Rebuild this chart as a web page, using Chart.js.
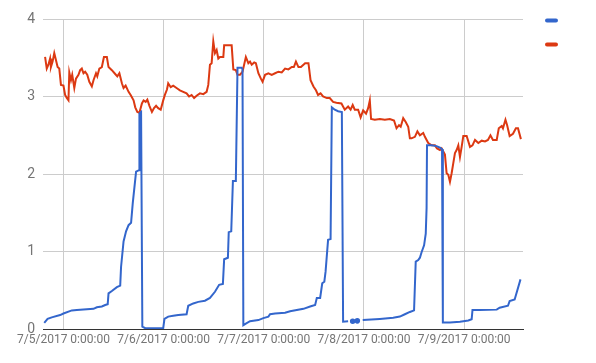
<!DOCTYPE html>
<html>
<head>
<meta charset="utf-8">
<script src="https://cdn.jsdelivr.net/npm/chart.js@4/dist/chart.umd.min.js"></script>
<style>
  html, body { margin: 0; padding: 0; background: #fff; }
  canvas { display: block; }
</style>
</head>
<body>
<canvas id="chart" width="596" height="363"></canvas>
<script>
/* global Chart */
// x values are hours since 7/5/2017 0:00:00
const dayTicks = [0, 24, 48, 72, 96];
const dayLabels = ['7/5/2017 0:00:00', '7/6/2017 0:00:00', '7/7/2017 0:00:00', '7/8/2017 0:00:00', '7/9/2017 0:00:00'];
const yTicks = [0, 1, 2, 3, 4];

const blueHours = [-4.6, -3.8, -2.8, -0.8, 0.0, 2.0, 3.2, 7.2, 8.0, 9.2, 10.0, 10.6, 10.8, 11.6, 12.8, 13.6, 13.8, 14.4, 15.0, 15.6,
  16.2, 16.6, 17.4, 18.1, 18.2, 18.6, 18.9, 19.6, 23.9, 24.2, 25.1, 26.3, 27.5, 29.5, 29.9, 31.1, 32.3, 33.9, 35.1, 36.3,
  37.3, 38.2, 38.5, 39.4, 39.6, 40.2, 40.6, 41.3, 41.7, 42.7, 42.9, 43.1, 43.7, 44.7, 46.7, 47.9, 49.1, 49.5, 50.7, 53.1,
  54.3, 57.5, 59.1, 60.3, 60.7, 61.5, 62.0, 62.5, 62.8, 63.4, 64.0, 64.3, 65.0, 65.8, 66.7, 67.0, 68.2, 68.7, 69.3, 69.8,
  70.4, 71.0, 71.7, 75.8, 79.0, 80.6, 81.8, 83.0, 84.0, 84.4, 85.0, 85.4, 85.8, 86.4, 86.8, 87.0, 87.1, 88.2, 89.4, 90.2,
  90.7, 90.9, 92.6, 95.0, 97.0, 97.8, 98.0, 99.8, 103.8, 104.5, 106.5, 106.9, 108.1, 109.5];
const blueValues = [0.08, 0.13, 0.15, 0.18, 0.20, 0.24, 0.245, 0.26, 0.28, 0.29, 0.31, 0.32, 0.46, 0.49, 0.54, 0.56, 0.80, 1.13, 1.26, 1.34,
  1.37, 1.62, 2.03, 2.05, 2.78, 2.80, 0.03, 0.01, 0.01, 0.13, 0.16, 0.17, 0.18, 0.19, 0.30, 0.33, 0.35, 0.365, 0.40, 0.48,
  0.57, 0.58, 0.90, 0.92, 1.25, 1.26, 1.91, 1.91, 3.37, 3.37, 3.35, 0.05, 0.07, 0.10, 0.115, 0.14, 0.16, 0.19, 0.20, 0.21,
  0.23, 0.26, 0.29, 0.31, 0.40, 0.40, 0.59, 0.61, 0.74, 1.15, 1.16, 2.86, 2.83, 2.81, 2.80, 0.095, 0.10, null, 0.10, null,
  0.105, null, 0.115, 0.13, 0.145, 0.16, 0.19, 0.22, 0.24, 0.87, 0.89, 0.92, 0.99, 1.08, 1.23, 1.56, 2.37, 2.37, 2.36, 2.34,
  2.32, 0.085, 0.085, 0.095, 0.11, 0.125, 0.245, 0.245, 0.25, 0.275, 0.30, 0.36, 0.38, 0.64];

const redHours = [-4.4, -4.0, -3.6, -3.2, -3.0, -2.6, -2.2, -1.8, -1.4, -1.0, -0.6, 0.0, 0.4, 0.8, 1.2, 1.4, 1.8, 2.1, 2.6, 3.0,
  3.6, 4.0, 4.4, 4.8, 5.2, 5.7, 6.2, 6.8, 7.2, 7.8, 8.1, 8.6, 9.2, 9.7, 10.4, 10.8, 11.6, 12.4, 12.9, 13.4,
  14.0, 14.4, 14.9, 15.6, 16.1, 16.8, 17.2, 17.7, 18.2, 18.8, 19.2, 19.7, 20.1, 20.6, 21.2, 21.7, 22.2, 22.7, 23.3, 23.9,
  24.3, 24.8, 25.1, 25.7, 26.3, 27.1, 27.9, 28.7, 29.5, 30.1, 30.7, 31.3, 31.9, 32.7, 33.5, 34.3, 34.7, 35.1, 35.5, 35.9,
  36.3, 36.7, 37.1, 37.5, 38.3, 38.5, 40.3, 40.7, 41.3, 41.7, 42.3, 42.9, 43.7, 44.3, 44.7, 45.1, 45.7, 46.1, 46.7, 47.3,
  47.7, 48.3, 49.1, 49.9, 50.7, 51.5, 52.3, 53.1, 53.9, 54.7, 55.2, 55.7, 56.3, 56.9, 57.9, 58.7, 59.2, 59.9, 60.5, 61.0,
  61.6, 62.2, 63.1, 63.8, 64.6, 65.4, 66.6, 67.4, 68.2, 68.8, 69.3, 69.8, 70.6, 71.2, 71.8, 72.5, 73.0, 73.4, 73.7, 74.6,
  75.8, 77.0, 78.2, 79.2, 79.8, 80.4, 80.8, 81.4, 82.0, 82.6, 83.0, 83.4, 84.2, 84.8, 85.4, 86.2, 86.6, 87.4, 88.2, 89.0,
  89.5, 90.2, 90.6, 91.4, 91.8, 92.2, 92.6, 93.0, 93.4, 93.8, 94.2, 94.6, 95.0, 95.4, 95.8, 96.6, 97.4, 98.0, 98.6, 99.4,
  100.2, 101.0, 101.7, 102.3, 102.9, 103.8, 104.3, 105.0, 105.3, 105.9, 106.3, 106.9, 107.7, 108.4, 108.9, 109.6];
const redValues = [3.51, 3.36, 3.41, 3.49, 3.38, 3.45, 3.56, 3.47, 3.38, 3.36, 3.15, 3.14, 3.02, 2.98, 2.95, 3.31, 3.21, 3.28, 3.11, 3.23,
  3.28, 3.34, 3.36, 3.30, 3.32, 3.28, 3.19, 3.13, 3.21, 3.30, 3.26, 3.36, 3.38, 3.51, 3.51, 3.38, 3.34, 3.29, 3.26, 3.30,
  3.17, 3.11, 3.14, 3.06, 3.02, 2.95, 2.86, 2.80, 2.79, 2.91, 2.95, 2.93, 2.96, 2.88, 2.80, 2.85, 2.88, 2.85, 2.83, 2.95,
  3.02, 3.09, 3.17, 3.12, 3.14, 3.11, 3.08, 3.06, 3.04, 3.00, 3.02, 2.98, 3.01, 3.04, 3.03, 3.06, 3.15, 3.41, 3.43, 3.71,
  3.56, 3.60, 3.49, 3.51, 3.51, 3.66, 3.66, 3.35, 3.34, 3.28, 3.28, 3.32, 3.51, 3.43, 3.45, 3.41, 3.44, 3.43, 3.30, 3.23,
  3.19, 3.28, 3.30, 3.28, 3.30, 3.32, 3.31, 3.36, 3.35, 3.38, 3.38, 3.45, 3.38, 3.38, 3.43, 3.43, 3.21, 3.13, 3.08, 3.02,
  3.04, 3.00, 2.98, 2.98, 2.93, 2.92, 2.91, 2.83, 2.87, 2.83, 2.89, 2.83, 2.83, 2.73, 2.82, 2.78, 2.85, 2.95, 2.71, 2.70,
  2.71, 2.70, 2.71, 2.69, 2.59, 2.63, 2.61, 2.72, 2.67, 2.61, 2.46, 2.46, 2.48, 2.55, 2.50, 2.53, 2.48, 2.40, 2.37, 2.37,
  2.33, 2.31, 2.33, 2.25, 2.01, 1.99, 1.90, 2.01, 2.14, 2.27, 2.31, 2.37, 2.22, 2.35, 2.49, 2.49, 2.35, 2.37, 2.44, 2.40,
  2.43, 2.42, 2.44, 2.50, 2.44, 2.44, 2.59, 2.62, 2.59, 2.70, 2.63, 2.49, 2.52, 2.59, 2.59, 2.45];

const blueColor = '#3366cc';
const redColor = '#dc3912';

function toPoints(xs, ys) {
    return xs.map((x, i) => ({ x: x, y: ys[i] }));
}

// lone points between gaps are drawn as dots
function loneRadius(ctx) {
    const d = ctx.dataset.data;
    const i = ctx.dataIndex;
    if (d[i].y === null) return 0;
    const prev = i > 0 ? d[i - 1].y : null;
    const next = i < d.length - 1 ? d[i + 1].y : null;
    return (prev === null && next === null) ? 1.8 : 0;
}

// little colour marks on the right, no text
const legendMarks = {
    id: 'legendMarks',
    afterDraw(chart) {
        const c = chart.ctx;
        c.save();
        c.lineCap = 'round';
        c.lineWidth = 4;
        [[blueColor, 20.5], [redColor, 44.5]].forEach(([col, y]) => {
            c.strokeStyle = col;
            c.beginPath();
            c.moveTo(547, y);
            c.lineTo(556, y);
            c.stroke();
        });
        c.restore();
    }
};

const ctx = document.getElementById('chart').getContext('2d');
new Chart(ctx, {
    type: 'line',
    data: {
        datasets: [{
            label: 'blue',
            data: toPoints(blueHours, blueValues),
            borderColor: blueColor,
            backgroundColor: blueColor,
            borderWidth: 2,
            pointRadius: loneRadius,
            pointHoverRadius: 0,
            tension: 0,
            spanGaps: false
        }, {
            label: 'red',
            data: toPoints(redHours, redValues),
            borderColor: redColor,
            backgroundColor: redColor,
            borderWidth: 2,
            pointRadius: 0,
            tension: 0
        }]
    },
    options: {
        responsive: false,
        animation: false,
        layout: { padding: { top: 19, right: 73, left: 0, bottom: 0 } },
        plugins: {
            legend: { display: false },
            tooltip: { enabled: false }
        },
        scales: {
            x: {
                type: 'linear',
                min: -4.9,
                max: 110.1,
                afterBuildTicks: (scale) => { scale.ticks = dayTicks.map(v => ({ value: v })); },
                afterFit: (scale) => { scale.height = 34; },
                ticks: {
                    color: '#757575',
                    font: { family: 'Roboto', size: 12 },
                    padding: 4,
                    maxRotation: 0,
                    autoSkip: false,
                    callback: (v) => dayLabels[dayTicks.indexOf(v)]
                },
                grid: { color: '#cccccc', drawTicks: false },
                border: { display: true, color: '#333333', width: 1 }
            },
            y: {
                min: 0,
                max: 4,
                afterBuildTicks: (scale) => { scale.ticks = yTicks.map(v => ({ value: v })); },
                afterFit: (scale) => { scale.width = 43; },
                ticks: {
                    color: '#757575',
                    font: { family: 'Roboto', size: 14 },
                    padding: 8
                },
                grid: {
                    color: (c) => c.tick && c.tick.value === 0 ? '#333333' : '#cccccc',
                    drawTicks: false
                },
                border: { display: false }
            }
        }
    },
    plugins: [legendMarks]
});
</script>
</body>
</html>
